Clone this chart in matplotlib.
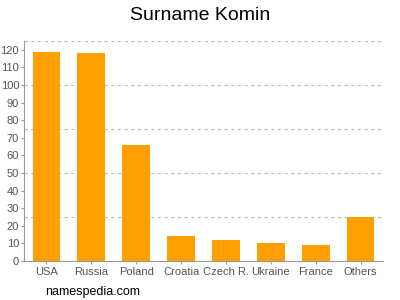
import matplotlib.pyplot as plt
import numpy as np

plt.rcParams['font.family'] = ['Liberation Sans', 'DejaVu Sans']

countries = ['USA', 'Russia', 'Poland', 'Croatia', 'Czech R.', 'Ukraine', 'France', 'Others']
counts = [119, 118, 66, 14, 12, 10, 9, 25]

fig = plt.figure(figsize=(4, 3), dpi=100)
ax = fig.add_axes([0.06, 0.13, 0.8975, 0.7333])

x = np.arange(len(countries))
ax.bar(x, counts, width=0.62, color='#ffa000', zorder=3)

ax.set_xlim(-0.5, len(countries) - 0.5)
ax.set_ylim(0, 125)
ax.set_yticks(range(0, 121, 10))
ax.set_xticks(x)
ax.set_xticklabels(countries)

for y in [25, 50, 75, 100, 125]:
    ax.axhline(y, color='#bbbbbb', lw=0.8, ls=(0, (3, 3)), zorder=1)

for s in ['top', 'right']:
    ax.spines[s].set_visible(False)
for s in ['left', 'bottom']:
    ax.spines[s].set_color('#999999')
ax.tick_params(labelsize=8, length=2.5, width=0.8)
ax.tick_params(axis='x', colors='#999999', labelcolor='#555555', pad=2)
ax.tick_params(axis='y', colors='#999999', labelcolor='#555555', pad=1)

fig.text(0.5, 0.95, 'Surname Komin', ha='center', va='center', fontsize=14)
fig.text(0.112, 0.027, 'namespedia.com', ha='left', va='center', fontsize=9)

fig.savefig('out.png')
